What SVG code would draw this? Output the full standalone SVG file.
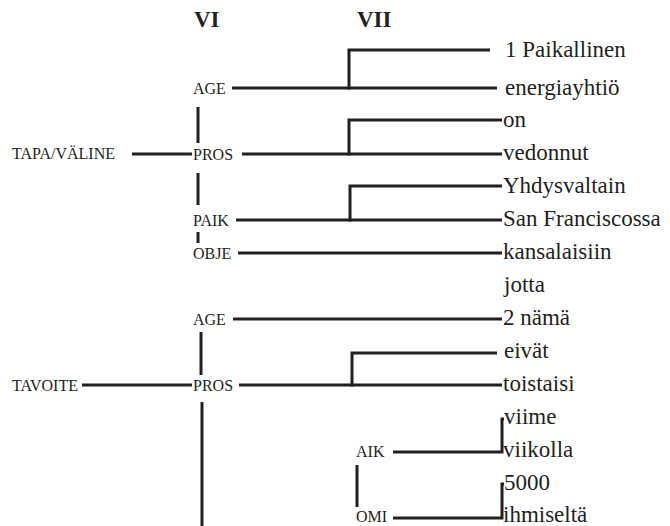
<svg xmlns="http://www.w3.org/2000/svg" width="670" height="526" viewBox="0 0 670 526">
  <style>
    text { font-family: 'Liberation Serif', 'Tinos', 'DejaVu Serif', serif; fill: #231f20; }
    .hd { font-size: 23px; font-weight: bold; }
    .w  { font-size: 23px; }
    .lb { font-size: 16px; }
    .ln { stroke: #231f20; stroke-width: 3; fill: none; }
  </style>
  <rect width="670" height="526" fill="#ffffff"/>

  <!-- column headers -->
  <g id="headers">
    <text class="hd" x="194" y="27">VI</text>
    <text class="hd" x="357" y="27">VII</text>
  </g>

  <!-- left-hand function labels -->
  <g id="tapa-valine"><text class="lb" x="12" y="159">TAPA/VÄLINE</text></g>
  <g id="tavoite"><text class="lb" x="12" y="391">TAVOITE</text></g>

  <!-- level VI labels -->
  <g id="age1"><text class="lb" x="193" y="94">AGE</text></g>
  <g id="pros1"><text class="lb" x="193" y="160">PROS</text></g>
  <g id="paik"><text class="lb" x="193" y="226">PAIK</text></g>
  <g id="obje"><text class="lb" x="193" y="259">OBJE</text></g>
  <g id="age2"><text class="lb" x="193" y="325">AGE</text></g>
  <g id="pros2"><text class="lb" x="193" y="391">PROS</text></g>
  <g id="aik"><text class="lb" x="356" y="457">AIK</text></g>
  <g id="omi"><text class="lb" x="356" y="522">OMI</text></g>

  <!-- sentence words -->
  <g id="words">
    <text class="w" x="505" y="57">1 Paikallinen</text>
    <text class="w" x="505" y="95">energiayhtiö</text>
    <text class="w" x="503" y="127">on</text>
    <text class="w" x="503" y="160">vedonnut</text>
    <text class="w" x="503" y="193">Yhdysvaltain</text>
    <text class="w" x="503" y="226">San Franciscossa</text>
    <text class="w" x="503" y="259">kansalaisiin</text>
    <text class="w" x="504" y="292">jotta</text>
    <text class="w" x="503" y="325">2 nämä</text>
    <text class="w" x="504" y="358">eivät</text>
    <text class="w" x="503" y="391">toistaisi</text>
    <text class="w" x="504" y="424">viime</text>
    <text class="w" x="503" y="457">viikolla</text>
    <text class="w" x="504" y="490">5000</text>
    <text class="w" x="503" y="522">ihmiseltä</text>
  </g>

  <!-- connectors -->
  <g id="connectors" class="ln">
    <!-- AGE -> 1 Paikallinen / energiayhtiö -->
    <path d="M232 88 H497"/>
    <path d="M349 89.5 V50 H490"/>
    <!-- AGE - PROS -->
    <path d="M198 107 V143"/>
    <!-- TAPA/VÄLINE - PROS -->
    <path d="M132 154 H192"/>
    <!-- PROS -> on / vedonnut -->
    <path d="M242 154 H502"/>
    <path d="M349 155.5 V120 H502"/>
    <!-- PROS - PAIK -->
    <path d="M198 173 V205"/>
    <!-- PAIK -> Yhdysvaltain / San Franciscossa -->
    <path d="M236 220 H502"/>
    <path d="M350 221.5 V186 H502"/>
    <!-- PAIK - OBJE -->
    <path d="M198 232 V243"/>
    <!-- OBJE -> kansalaisiin -->
    <path d="M238 253 H502"/>
    <!-- AGE -> 2 nämä -->
    <path d="M233 319 H502"/>
    <!-- AGE - PROS -->
    <path d="M201 332 V375"/>
    <!-- TAVOITE - PROS -->
    <path d="M82 385 H192"/>
    <!-- PROS -> eivät / toistaisi -->
    <path d="M239 385 H502"/>
    <path d="M352 386.5 V353 H497"/>
    <!-- PROS down -->
    <path d="M202 402 V526"/>
    <!-- AIK -> viime viikolla -->
    <path d="M393 452 H502 V419 H504"/>
    <!-- AIK - OMI -->
    <path d="M357 465 V507"/>
    <!-- OMI -> 5000 ihmiseltä -->
    <path d="M393 518 H502 V484 H504"/>
  </g>
</svg>
